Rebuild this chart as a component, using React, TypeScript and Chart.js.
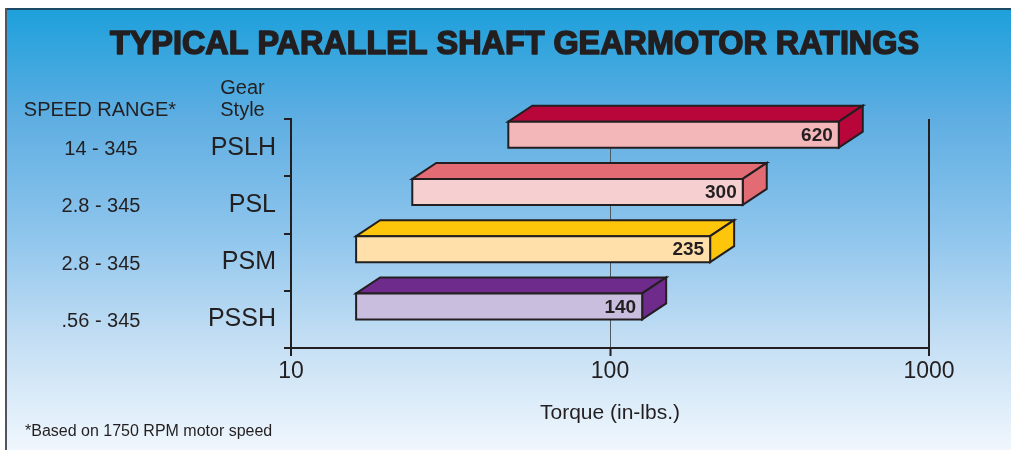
import React, { useEffect, useRef } from 'react';
import { Chart, registerables } from 'chart.js';

Chart.register(...registerables);

// ---- data ----
const gearStyles = ['PSLH', 'PSL', 'PSM', 'PSSH'];
const speedRanges = ['14 - 345', '2.8 - 345', '2.8 - 345', '.56 - 345'];
const torqueStart = [48, 24, 16, 16];
const torqueEnd = [620, 310, 245, 150];
const ratingLabels = ['620', '300', '235', '140'];
const xTicks = [10, 100, 1000];

// ---- styles ----
const frontColors = ['#f3b6b9', '#f6d0d1', '#ffe0ab', '#c9bedd'];
const shadeColors = ['#b9063a', '#e36b74', '#fec60b', '#6e2b8c'];
const FONT = "'Liberation Sans', Arial, sans-serif";
const INK = '#231f20';
const DEPTH_X = 24;
const DEPTH_Y = 16;
const FACE_H = 26;

const decorPlugin = {
  id: 'decor',
  beforeDraw(chart: any) {
    const { ctx, width, height } = chart;
    ctx.save();
    ctx.fillStyle = '#ffffff';
    ctx.fillRect(0, 0, width, height);
    const g = ctx.createLinearGradient(0, 9, 0, height);
    g.addColorStop(0, 'rgb(29,160,219)');
    g.addColorStop(0.25, 'rgb(95,174,226)');
    g.addColorStop(0.5, 'rgb(140,196,236)');
    g.addColorStop(0.75, 'rgb(195,222,244)');
    g.addColorStop(1, 'rgb(240,247,253)');
    ctx.fillStyle = g;
    ctx.fillRect(5, 8, width - 5, height - 8);
    ctx.fillStyle = '#1b4a66';
    ctx.fillRect(5, 8, width - 5, 2);
    ctx.fillStyle = '#50565c';
    ctx.fillRect(5, 8, 2, height - 8);

    // title
    const title = 'TYPICAL PARALLEL SHAFT GEARMOTOR RATINGS';
    ctx.font = `bold 33px ${FONT}`;
    const w = ctx.measureText(title).width;
    const target = 809;
    ctx.translate(514.5, 45);
    ctx.scale(target / w, 1);
    ctx.textAlign = 'center';
    ctx.textBaseline = 'middle';
    ctx.fillStyle = INK;
    ctx.strokeStyle = INK;
    ctx.lineWidth = 1.6;
    ctx.lineJoin = 'round';
    ctx.fillText(title, 0, 0);
    ctx.strokeText(title, 0, 0);
    ctx.restore();
  },
  afterDatasetsDraw(chart: any) {
    const { ctx } = chart;
    const meta = chart.getDatasetMeta(0);
    ctx.save();
    ctx.lineWidth = 2;
    ctx.strokeStyle = INK;
    ctx.lineJoin = 'miter';
    meta.data.forEach((el: any, i: number) => {
      const left = Math.min(el.base, el.x);
      const backRight = Math.max(el.base, el.x);
      const right = backRight - DEPTH_X;
      const bottom = el.y;
      const top = bottom - FACE_H;
      // top face
      ctx.beginPath();
      ctx.moveTo(left, top);
      ctx.lineTo(left + DEPTH_X, top - DEPTH_Y);
      ctx.lineTo(backRight, top - DEPTH_Y);
      ctx.lineTo(right, top);
      ctx.closePath();
      ctx.fillStyle = shadeColors[i];
      ctx.fill();
      ctx.stroke();
      // side face
      ctx.beginPath();
      ctx.moveTo(right, top);
      ctx.lineTo(backRight, top - DEPTH_Y);
      ctx.lineTo(backRight, bottom - DEPTH_Y);
      ctx.lineTo(right, bottom);
      ctx.closePath();
      ctx.fill();
      ctx.stroke();
      // front face
      ctx.beginPath();
      ctx.rect(left, top, right - left, FACE_H);
      ctx.fillStyle = frontColors[i];
      ctx.fill();
      ctx.stroke();
      // value label
      ctx.fillStyle = INK;
      ctx.font = `bold 19px ${FONT}`;
      ctx.textAlign = 'right';
      ctx.textBaseline = 'middle';
      ctx.fillText(ratingLabels[i], right - 6, top + FACE_H / 2 + 1);
    });
    ctx.restore();
  },
  afterDraw(chart: any) {
    const { ctx } = chart;
    const yScale = chart.scales.y;
    ctx.save();
    ctx.fillStyle = INK;
    ctx.textBaseline = 'middle';
    ctx.textAlign = 'center';
    ctx.font = `20px ${FONT}`;
    speedRanges.forEach((s, i) => {
      ctx.fillText(s, 101, yScale.getPixelForValue(i) + 2);
    });
    ctx.fillText('SPEED RANGE*', 100, 110);
    ctx.fillText('Gear', 242.5, 88);
    ctx.fillText('Style', 242.5, 110);
    ctx.textAlign = 'left';
    ctx.font = `16px ${FONT}`;
    ctx.fillText('*Based on 1750 RPM motor speed', 25, 432);
    ctx.restore();
  },
};

export default function App() {
  const ref = useRef<HTMLCanvasElement | null>(null);
  useEffect(() => {
    document.body.style.margin = '0';
    if (!ref.current) return;
    const chart = new Chart(ref.current, {
      type: 'bar',
      data: {
        labels: gearStyles,
        datasets: [
          {
            data: gearStyles.map((_, i) => [torqueStart[i], torqueEnd[i]]) as any,
            backgroundColor: 'rgba(0,0,0,0)',
            borderWidth: 0,
            categoryPercentage: 1,
            barPercentage: 1,
          },
        ],
      },
      options: {
        indexAxis: 'y',
        responsive: false,
        animation: false,
        layout: { padding: { top: 119, right: 82, left: 0, bottom: 0 } },
        plugins: {
          legend: { display: false },
          tooltip: { enabled: false },
          title: { display: false },
        },
        scales: {
          x: {
            type: 'logarithmic',
            min: 10,
            max: 1000,
            afterBuildTicks: (s: any) => {
              s.ticks = xTicks.map((v) => ({ value: v, major: true }));
            },
            afterFit: (s: any) => {
              s.height = 102;
            },
            ticks: {
              callback: (v: any) => String(v),
              font: { family: FONT, size: 23 },
              color: INK,
              padding: 2,
              maxRotation: 0,
              autoSkip: false,
            },
            grid: {
              color: (c: any) => (c.tick && c.tick.value === 100 ? '#4d5963' : INK),
              lineWidth: (c: any) => (c.tick && c.tick.value === 100 ? 1 : 2),
              tickColor: INK,
              tickWidth: 2,
              tickLength: 8,
              drawOnChartArea: true,
            },
            border: { display: true, color: INK, width: 2 },
            title: {
              display: true,
              text: 'Torque (in-lbs.)',
              font: { family: FONT, size: 21 },
              color: INK,
              padding: { top: 0, bottom: 24 },
            },
          },
          y: {
            type: 'category',
            offset: true,
            afterFit: (s: any) => {
              s.width = 291;
            },
            grid: {
              offset: true,
              drawOnChartArea: false,
              tickLength: 7,
              color: INK,
              lineWidth: 2,
            },
            border: { display: true, color: INK, width: 2 },
            ticks: {
              font: { family: FONT, size: 25 },
              color: INK,
              padding: 8,
            },
          },
        },
      } as any,
      plugins: [decorPlugin],
    });
    return () => chart.destroy();
  }, []);
  return (
    <div style={{ width: 1011, height: 450 }}>
      <canvas ref={ref} width={1011} height={450} style={{ display: 'block' }} />
    </div>
  );
}
